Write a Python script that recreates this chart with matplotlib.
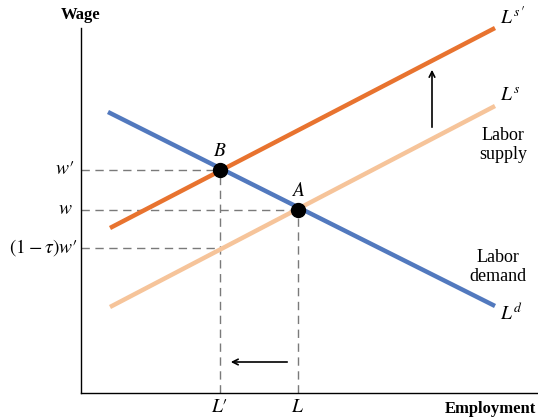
import matplotlib

matplotlib.use("Agg")
import matplotlib.pyplot as plt

plt.rcParams["mathtext.fontset"] = "stix"
plt.rcParams["font.family"] = ["Liberation Serif", "DejaVu Serif"]

# curve endpoints (x = employment, y = wage), arbitrary units
supply_new_x = [29, 414]
supply_new_y = [165, 365]
supply_x = [29, 414]
supply_y = [86, 287]
demand_x = [27, 414]
demand_y = [281, 87]

# equilibria
eq_names = ["B", "A"]
eq_x = [139, 217]
eq_y = [223, 183]
net_wage = 145  # (1 - tau) w'

XMAX, YMAX = 457, 365

fig = plt.figure(figsize=(5.38, 4.18), dpi=100)
ax = fig.add_axes([81 / 538, 25 / 418, 457 / 538, 368 / 418])
ax.set_xlim(0, XMAX)
ax.set_ylim(0, 368)
for s in ["top", "right"]:
    ax.spines[s].set_visible(False)
ax.spines["left"].set_bounds(0, 365)
ax.spines["left"].set_linewidth(1.0)
ax.spines["bottom"].set_linewidth(1.0)
ax.set_xticks([])
ax.set_yticks([])

dash = dict(color="#7a7a7a", lw=1.0, ls=(0, (6, 4)), zorder=1)
Lp, L = eq_x
wp, w = eq_y[0], eq_y[1]
ax.plot([0, Lp], [wp, wp], **dash)
ax.plot([0, L], [w, w], **dash)
ax.plot([0, Lp], [net_wage, net_wage], **dash)
ax.plot([Lp, Lp], [0, wp], **dash)
ax.plot([L, L], [0, w], **dash)

ax.plot(supply_x, supply_y, color="#F6C49A", lw=3.2, solid_capstyle="butt", zorder=2)
ax.plot(supply_new_x, supply_new_y, color="#E8732F", lw=3.2, solid_capstyle="butt", zorder=3)
ax.plot(demand_x, demand_y, color="#5279BE", lw=3.2, solid_capstyle="butt", zorder=3)
ax.plot(eq_x, eq_y, "o", color="black", ms=10, zorder=5)

for name, x, y in zip(eq_names, eq_x, eq_y):
    ax.text(x, y + 10, f"${name}$", fontsize=14, ha="center", va="bottom")

ax.annotate("", xy=(147, 31), xytext=(209, 31),
            arrowprops=dict(arrowstyle="->", lw=1.2, color="black"))
ax.annotate("", xy=(351, 326), xytext=(351, 263),
            arrowprops=dict(arrowstyle="->", lw=1.2, color="black"))

fs = 14
ax.text(419, 376, r"$L^{s\,\prime}$", fontsize=fs, ha="left", va="center", clip_on=False)
ax.text(419, 297, r"$L^{s}$", fontsize=fs, ha="left", va="center")
ax.text(419, 80, r"$L^{d}$", fontsize=fs, ha="left", va="center")
ax.text(422, 248, "Labor\nsupply", fontsize=13, ha="center", va="center", linespacing=1.1)
ax.text(417, 126, "Labor\ndemand", fontsize=13, ha="center", va="center", linespacing=1.1)

ax.text(-7, wp, r"$w\prime$", fontsize=fs, ha="right", va="center")
ax.text(-8, w, r"$w$", fontsize=fs, ha="right", va="center")
ax.text(-3, net_wage, r"$(1-\tau)w\prime$", fontsize=fs, ha="right", va="center")
ax.text(Lp, -6, r"$L\prime$", fontsize=fs, ha="center", va="top")
ax.text(L, -6, r"$L$", fontsize=fs, ha="center", va="top")

ax.text(0, 378, "Wage", fontsize=12, fontweight="bold", ha="center", va="center", clip_on=False)
ax.text(XMAX - 2, -16, "Employment", fontsize=12, fontweight="bold", ha="right", va="center", clip_on=False)

fig.savefig("out.png", dpi=100)
